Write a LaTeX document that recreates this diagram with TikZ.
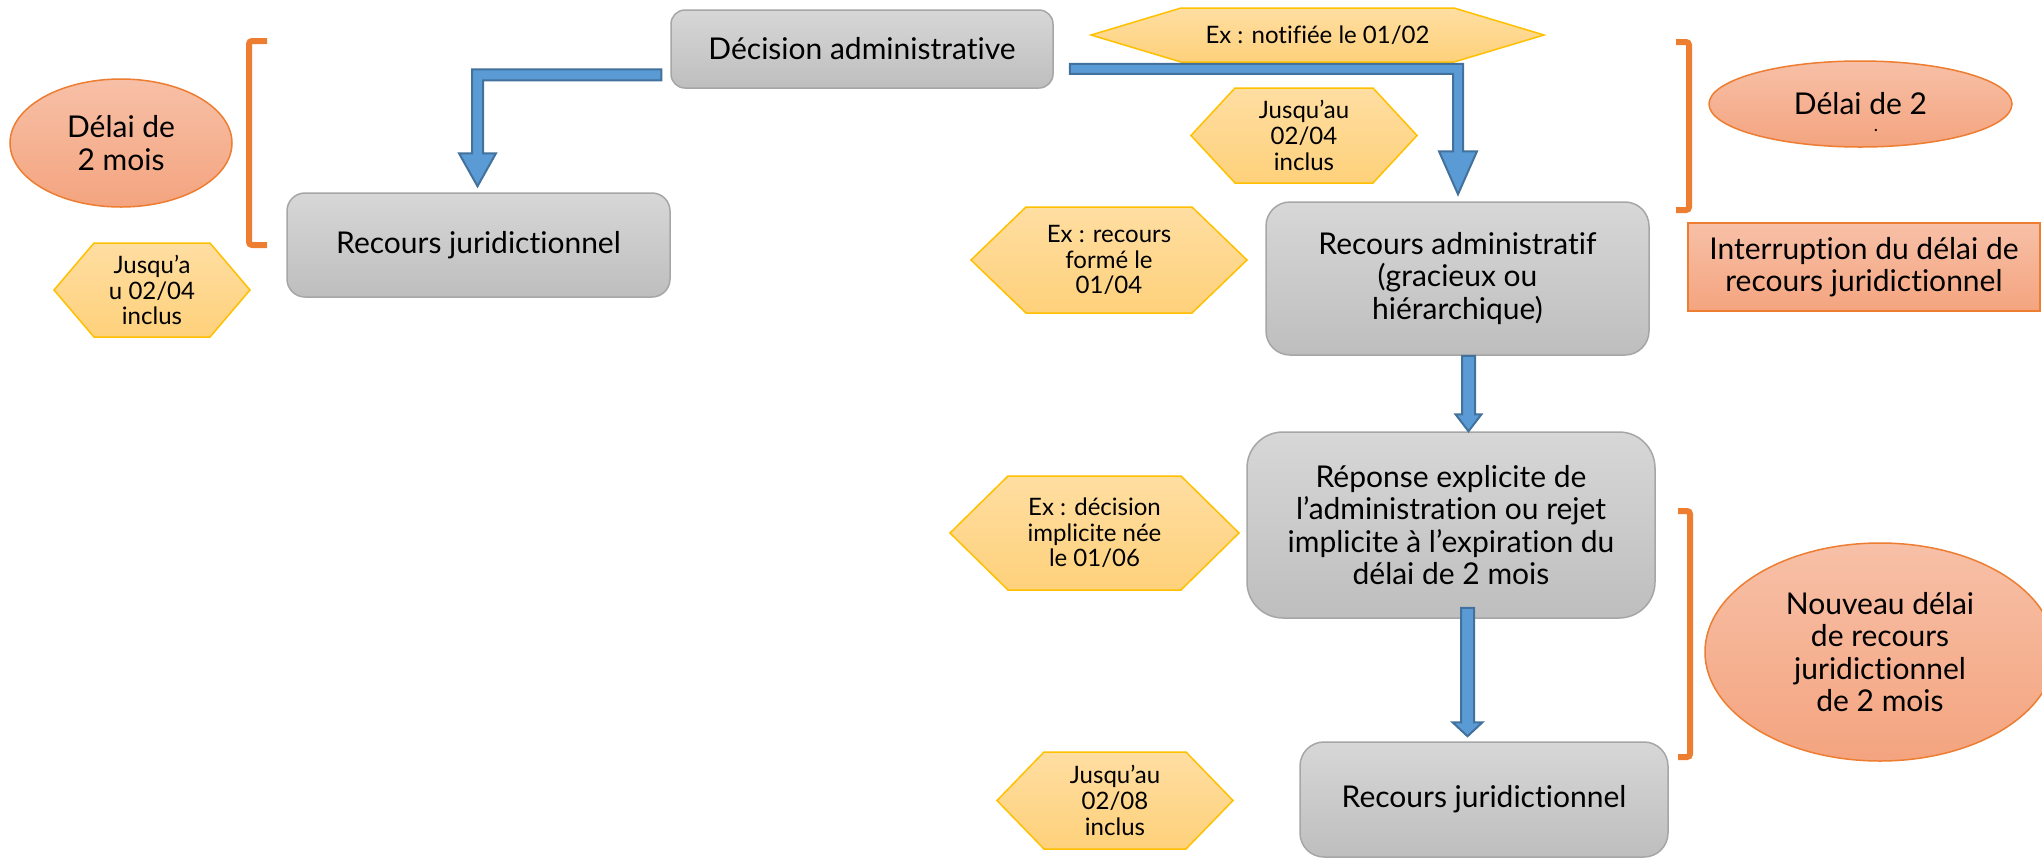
\documentclass[tikz,border=0pt]{standalone}
\usepackage{fontspec}
\setmainfont{Lato}[RawFeature={-liga;-clig;-calt;-dlig}]
\usetikzlibrary{calc,shapes.geometric}
\definecolor{grayTop}{HTML}{D7D7D7}
\definecolor{grayBot}{HTML}{BEBEBE}
\definecolor{grayBorder}{HTML}{A6A6A6}
\definecolor{hexTop}{HTML}{FFDEA2}
\definecolor{hexBot}{HTML}{FED17B}
\definecolor{hexBorder}{HTML}{FFC000}
\definecolor{salTop}{HTML}{F7C0A7}
\definecolor{salBot}{HTML}{F4A47F}
\definecolor{orangeBorder}{HTML}{ED7D31}
\definecolor{arrowBlue}{HTML}{5B9BD5}
\definecolor{arrowBorder}{HTML}{41719C}
\newcommand{\hexbox}[7]{%
  \path[hexfill] ({#2-#4},{#3}) -- ({#2-#4+#6},{#3-#5}) -- ({#2+#4-#6},{#3-#5}) -- ({#2+#4},{#3}) -- ({#2+#4-#6},{#3+#5}) -- ({#2-#4+#6},{#3+#5}) -- cycle;
  \node[hextext] (#1) at (#2,#3) {#7};}
\begin{document}
\begin{tikzpicture}[x=0.5pt,y=-0.5pt,
  graybox/.style={rectangle, draw=grayBorder, line width=0.75pt, top color=grayTop, bottom color=grayBot, align=center, font=\fontsize{15pt}{16.3pt}\selectfont, inner sep=0pt},
  hexfill/.style={draw=hexBorder, line width=0.75pt, top color=hexTop, bottom color=hexBot},
  hextext/.style={align=center, font=\fontsize{12pt}{12.8pt}\selectfont, inner sep=0pt},
  salmon/.style={draw=orangeBorder, line width=0.75pt, top color=salTop, bottom color=salBot, align=center, font=\fontsize{15pt}{16.3pt}\selectfont, inner sep=0pt},
  bluearrow/.style={fill=arrowBlue, draw=arrowBorder, line width=1pt, line join=miter},
  bracketline/.style={draw=orangeBorder, line width=3pt, rounded corners=1.5pt}
]
\fill[white] (0,0) rectangle (2042,858);
\useasboundingbox (0,0) rectangle (2042,858);

% gray boxes
\node[graybox, rounded corners=7pt, minimum width=191pt, minimum height=39pt] (dec) at (862,49) {Décision administrative};
\node[graybox, rounded corners=9pt, minimum width=191.5pt, minimum height=52pt] (rj1) at (478.5,245) {Recours juridictionnel};
\node[graybox, rounded corners=12pt, minimum width=191.5pt, minimum height=76.5pt] (ra) at (1457.5,278.5) {Recours administratif\\(gracieux ou\\hiérarchique)};
\node[graybox, rounded corners=18pt, minimum width=204pt, minimum height=93pt] (rep) at (1451,525) {Réponse explicite de\\l’administration ou rejet\\implicite à l’expiration du\\délai de 2 mois};
\node[graybox, rounded corners=12pt, minimum width=184pt, minimum height=57.5pt] (rj2) at (1484,799.5) {Recours juridictionnel};

% salmon shapes
\node[salmon, ellipse, minimum width=111pt, minimum height=64pt] (e1) at (121,143) {Délai de\\2 mois};
\node[salmon, ellipse, minimum width=151.5pt, minimum height=43pt] (e2) at (1860.5,104) {Délai de 2};
\node[anchor=base, inner sep=0pt, font=\fontsize{9pt}{9pt}\selectfont] (e2dot) at (1876,131) {.};
\node[salmon, ellipse, minimum width=175pt, minimum height=109pt] (e3) at (1880,652) {Nouveau délai\\de recours\\juridictionnel\\de 2 mois};
\node[salmon, rectangle, minimum width=176pt, minimum height=44pt] (intr) at (1864,267) {Interruption du délai de\\recours juridictionnel};

% hexagons
\hexbox{notif}{1317.5}{35}{226.5}{27}{90}{Ex : notifiée le 01/02}
\hexbox{j1}{1304}{135.5}{113}{47.5}{44}{Jusqu’au\\02/04\\inclus}
\hexbox{exr}{1109}{260}{138}{53}{55}{Ex : recours\\formé le\\01/04}
\hexbox{jl}{152}{290}{98}{47}{40}{Jusqu’a\\u 02/04\\inclus}
\hexbox{exd}{1094.5}{533}{144.5}{57}{58}{Ex : décision\\implicite née\\le 01/06}
\hexbox{j2}{1115}{800.5}{118}{48.5}{47}{Jusqu’au\\02/08\\inclus}

% brackets
\draw[bracketline] (267,41) -- (249,41) -- (249,245) -- (267,245);
\draw[bracketline] (1676,42) -- (1689,42) -- (1689,210) -- (1676,210);
\draw[bracketline] (1678,511) -- (1690,511) -- (1690,757) -- (1678,757);

% blue arrows
\coordinate (a1s) at ($(dec.south west)+(-9,-14)$);
\coordinate (a1e) at ($(rj1.north)+(-1,-6)$);
\path[bluearrow] ($(a1s)+(0,-5.5)$) -- ($(a1e|-a1s)+(-5.5,-5.5)$) -- ($(a1e)+(-5.5,-33)$) -- ($(a1e)+(-18.5,-33)$) -- (a1e) -- ($(a1e)+(18.5,-33)$) -- ($(a1e)+(5.5,-33)$) -- ($(a1e|-a1s)+(5.5,5.5)$) -- ($(a1s)+(0,5.5)$) -- cycle;

\coordinate (a2s) at ($(dec.south east)+(16,-20)$);
\coordinate (a2e) at ($(ra.north)+(0.5,-7)$);
\path[bluearrow] ($(a2s)+(0,-5)$) -- ($(a2e|-a2s)+(5,-5)$) -- ($(a2e)+(5,-43)$) -- ($(a2e)+(19,-43)$) -- (a2e) -- ($(a2e)+(-19,-43)$) -- ($(a2e)+(-5,-43)$) -- ($(a2e|-a2s)+(-5,5)$) -- ($(a2s)+(0,5)$) -- cycle;

\coordinate (a3s) at ($(ra.south)+(11,0)$);
\coordinate (a3e) at (a3s |- rep.north);
\path[bluearrow] ($(a3s)+(-6.5,0)$) -- ($(a3e)+(-6.5,-17)$) -- ($(a3e)+(-13,-17)$) -- (a3e) -- ($(a3e)+(13,-17)$) -- ($(a3e)+(6.5,-17)$) -- ($(a3s)+(6.5,0)$) -- cycle;

\coordinate (a4s) at ($(rep.south)+(16.5,-11)$);
\coordinate (a4e) at ($(a4s |- rj2.north)+(0,-5)$);
\path[bluearrow] ($(a4s)+(-6.5,0)$) -- ($(a4e)+(-6.5,-14)$) -- ($(a4e)+(-15,-14)$) -- (a4e) -- ($(a4e)+(15,-14)$) -- ($(a4e)+(6.5,-14)$) -- ($(a4s)+(6.5,0)$) -- cycle;
\end{tikzpicture}
\end{document}
